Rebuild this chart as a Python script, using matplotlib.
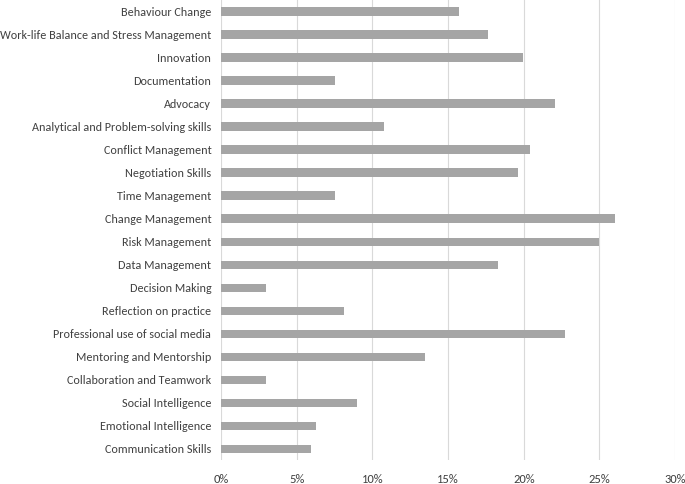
import matplotlib
matplotlib.use("Agg")
import matplotlib.pyplot as plt
from matplotlib.ticker import PercentFormatter

categories = [
    "Behaviour Change",
    "Work-life Balance and Stress Management",
    "Innovation",
    "Documentation",
    "Advocacy",
    "Analytical and Problem-solving skills",
    "Conflict Management",
    "Negotiation Skills",
    "Time Management",
    "Change Management",
    "Risk Management",
    "Data Management",
    "Decision Making",
    "Reflection on practice",
    "Professional use of social media",
    "Mentoring and Mentorship",
    "Collaboration and Teamwork",
    "Social Intelligence",
    "Emotional Intelligence",
    "Communication Skills",
]
values = [15.75, 17.65, 19.95, 7.5, 22.05, 10.8, 20.4, 19.6, 7.5, 26.05,
          24.95, 18.3, 3.0, 8.1, 22.7, 13.5, 3.0, 9.0, 6.25, 5.95]
x_ticks = [0, 5, 10, 15, 20, 25, 30]

# Calibri look-alike, fall back to DejaVu if missing
plt.rcParams['font.family'] = ['Carlito', 'DejaVu Sans']

fig = plt.figure(figsize=(6.85, 4.84), dpi=100)
ax = fig.add_axes([0.3226, 0.049, 0.663, 0.951])

y = list(range(len(categories)))
ax.barh(y, values, height=0.36, color='#a5a5a5', zorder=3)
ax.set_ylim(len(categories) - 0.5, -0.5)
ax.set_yticks(y)
ax.set_yticklabels(categories, fontsize=8.7, color='#404040')

ax.set_xlim(0, 30)
ax.set_xticks(x_ticks)
ax.xaxis.set_major_formatter(PercentFormatter(decimals=0))
ax.tick_params(axis='x', labelsize=9, labelcolor='#404040', length=0, pad=10)
ax.tick_params(axis='y', length=0, pad=7)
ax.grid(axis='x', color='#d9d9d9', linewidth=0.8, zorder=0)
for s in ax.spines.values():
    s.set_visible(False)

fig.savefig("out.png", dpi=100)
